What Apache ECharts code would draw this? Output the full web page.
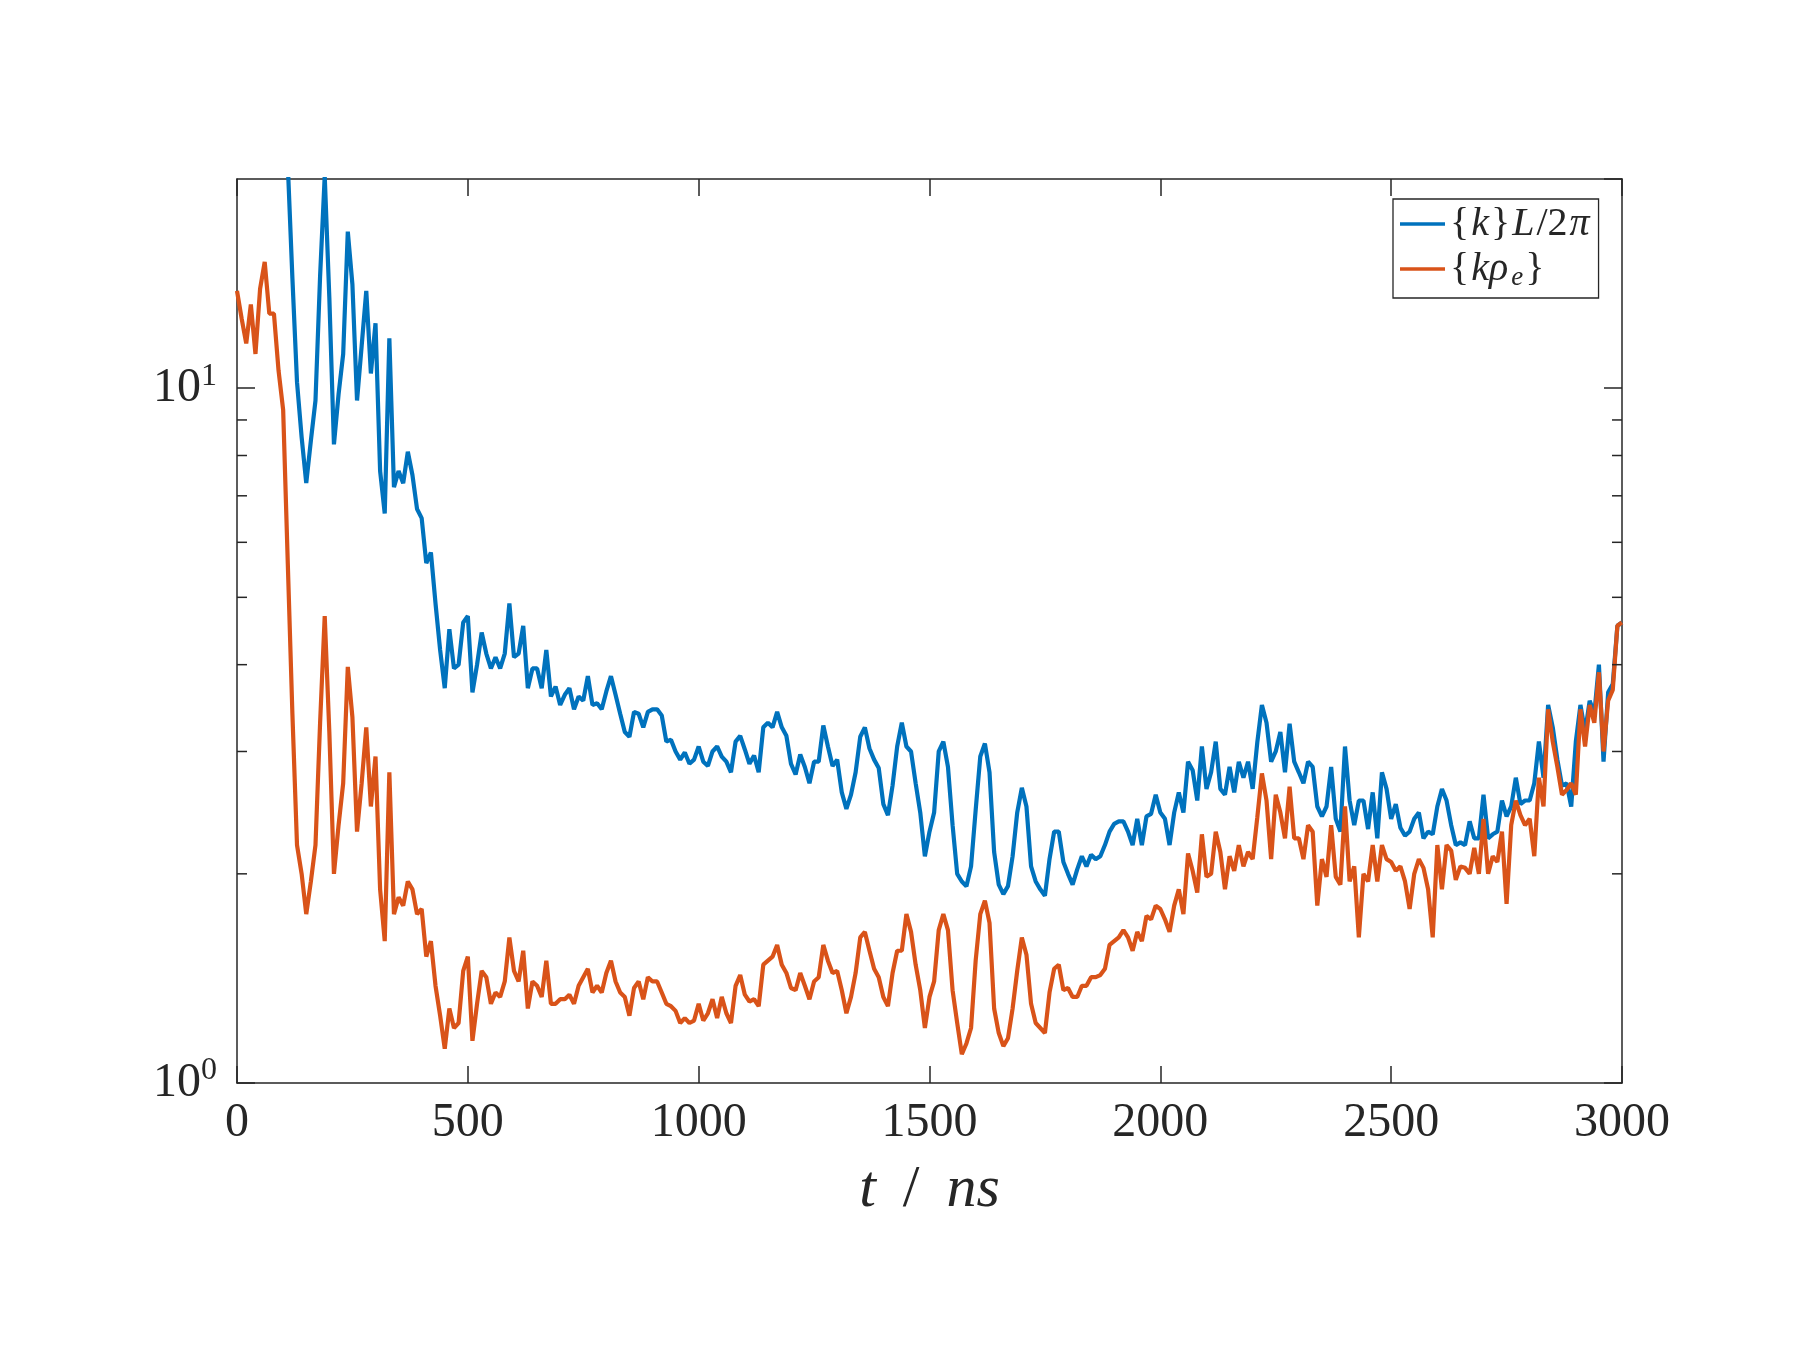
<!DOCTYPE html>
<html><head><meta charset="utf-8">
<script src="https://cdn.jsdelivr.net/npm/echarts@6/dist/echarts.min.js"></script>
<style>html,body{margin:0;padding:0;background:#fff}#c{width:1800px;height:1350px}</style>
</head><body><div id="c"></div>
<script>
// time stamps (ns)
const tNs = [
0,10,20,30,40,50,60,70,80,90,100,110,120,130,140,150,160,170,180,190,
200,210,220,230,240,250,260,270,280,290,300,310,320,330,340,350,360,370,380,390,
400,410,420,430,440,450,460,470,480,490,500,510,520,530,540,550,560,570,580,590,
600,610,620,630,640,650,660,670,680,690,700,710,720,730,740,750,760,770,780,790,
800,810,820,830,840,850,860,870,880,890,900,910,920,930,940,950,960,970,980,990,
1000,1010,1020,1030,1040,1050,1060,1070,1080,1090,1100,1110,1120,1130,1140,1150,1160,1170,1180,1190,
1200,1210,1220,1230,1240,1250,1260,1270,1280,1290,1300,1310,1320,1330,1340,1350,1360,1370,1380,1390,
1400,1410,1420,1430,1440,1450,1460,1470,1480,1490,1500,1510,1520,1530,1540,1550,1560,1570,1580,1590,
1600,1610,1620,1630,1640,1650,1660,1670,1680,1690,1700,1710,1720,1730,1740,1750,1760,1770,1780,1790,
1800,1810,1820,1830,1840,1850,1860,1870,1880,1890,1900,1910,1920,1930,1940,1950,1960,1970,1980,1990,
2000,2010,2020,2030,2040,2050,2060,2070,2080,2090,2100,2110,2120,2130,2140,2150,2160,2170,2180,2190,
2200,2210,2220,2230,2240,2250,2260,2270,2280,2290,2300,2310,2320,2330,2340,2350,2360,2370,2380,2390,
2400,2410,2420,2430,2440,2450,2460,2470,2480,2490,2500,2510,2520,2530,2540,2550,2560,2570,2580,2590,
2600,2610,2620,2630,2640,2650,2660,2670,2680,2690,2700,2710,2720,2730,2740,2750,2760,2770,2780,2790,
2800,2810,2820,2830,2840,2850,2860,2870,2880,2890,2900,2910,2920,2930,2940,2950,2960,2970,2980,2990,
3000];

// {k} L / 2pi  (blue)
const kL2pi = [
45,44,43,42,41,39,37,35,33,31,
28,21,14.4,10.2,8.5,7.3,8.4,9.6,14.5,20.2,
13.5,8.3,9.8,11.2,16.8,14.1,9.6,11.5,13.8,10.5,
12.4,7.6,6.6,11.8,7.2,7.6,7.3,8.1,7.5,6.7,
6.5,5.6,5.8,4.9,4.2,3.7,4.5,3.95,4.0,4.6,
4.7,3.65,4.0,4.45,4.15,3.95,4.1,3.95,4.15,4.9,
4.1,4.15,4.55,3.7,3.95,3.95,3.7,4.2,3.6,3.72,
3.5,3.62,3.7,3.45,3.6,3.55,3.85,3.5,3.52,3.45,
3.66,3.85,3.62,3.4,3.2,3.15,3.42,3.4,3.25,3.42,
3.45,3.45,3.38,3.1,3.12,3.0,2.92,2.99,2.88,2.92,
3.05,2.9,2.86,3.0,3.05,2.95,2.9,2.8,3.1,3.16,
3.02,2.88,2.96,2.8,3.25,3.3,3.25,3.42,3.25,3.16,
2.88,2.78,2.97,2.85,2.7,2.9,2.9,3.27,3.05,2.86,
2.92,2.62,2.48,2.6,2.8,3.15,3.25,3.03,2.92,2.84,
2.52,2.43,2.68,3.05,3.3,3.05,3.0,2.7,2.45,2.12,
2.3,2.45,3.0,3.1,2.85,2.35,2.0,1.95,1.92,2.05,
2.47,2.95,3.08,2.8,2.15,1.93,1.87,1.92,2.12,2.45,
2.66,2.5,2.05,1.95,1.9,1.86,2.1,2.3,2.3,2.08,
2.0,1.93,2.03,2.12,2.05,2.13,2.1,2.12,2.2,2.3,
2.36,2.38,2.38,2.3,2.2,2.4,2.2,2.42,2.44,2.6,
2.45,2.4,2.2,2.45,2.62,2.45,2.9,2.82,2.55,3.05,
2.65,2.8,3.1,2.65,2.6,2.85,2.62,2.9,2.75,2.9,
2.65,3.09,3.5,3.3,2.9,3.0,3.2,2.8,3.29,2.9,
2.8,2.7,2.9,2.85,2.5,2.42,2.5,2.85,2.4,2.3,
3.05,2.55,2.35,2.55,2.55,2.32,2.62,2.25,2.8,2.65,
2.4,2.52,2.33,2.27,2.3,2.4,2.45,2.25,2.3,2.28,
2.5,2.65,2.55,2.35,2.2,2.22,2.2,2.38,2.25,2.25,
2.6,2.25,2.28,2.3,2.55,2.42,2.5,2.75,2.52,2.55,
2.55,2.7,3.1,2.75,3.5,3.25,2.92,2.68,2.7,2.5,
3.1,3.5,3.2,3.55,3.4,4.0,2.9,3.65,3.75,4.55,
4.6];

// {k rho_e}  (orange)
const kRhoE = [
13.8,12.6,11.6,13.2,11.2,13.9,15.2,12.8,12.8,10.6,
9.3,5.6,3.4,2.2,2.0,1.75,1.95,2.2,3.3,4.7,
3.2,2.0,2.35,2.7,3.97,3.36,2.3,2.7,3.25,2.5,
2.95,1.9,1.6,2.8,1.75,1.85,1.8,1.95,1.9,1.75,
1.78,1.52,1.6,1.38,1.25,1.12,1.28,1.2,1.22,1.45,
1.52,1.15,1.3,1.45,1.42,1.3,1.35,1.33,1.4,1.62,
1.45,1.4,1.55,1.28,1.4,1.38,1.33,1.5,1.3,1.3,
1.32,1.32,1.34,1.3,1.38,1.42,1.46,1.35,1.38,1.35,
1.44,1.5,1.4,1.35,1.33,1.25,1.37,1.4,1.32,1.42,
1.4,1.4,1.35,1.3,1.29,1.27,1.22,1.24,1.22,1.23,
1.3,1.23,1.26,1.32,1.24,1.33,1.26,1.22,1.38,1.43,
1.34,1.31,1.32,1.29,1.48,1.5,1.52,1.58,1.48,1.44,
1.37,1.36,1.44,1.38,1.32,1.4,1.42,1.58,1.5,1.44,
1.45,1.36,1.26,1.33,1.44,1.62,1.65,1.55,1.46,1.42,
1.33,1.29,1.44,1.55,1.55,1.75,1.65,1.48,1.36,1.2,
1.33,1.4,1.66,1.75,1.66,1.36,1.22,1.1,1.14,1.2,
1.5,1.75,1.83,1.7,1.28,1.18,1.13,1.16,1.28,1.45,
1.62,1.53,1.3,1.22,1.2,1.18,1.35,1.46,1.48,1.36,
1.37,1.33,1.33,1.38,1.38,1.42,1.42,1.43,1.46,1.58,
1.6,1.62,1.66,1.62,1.55,1.65,1.6,1.74,1.72,1.8,
1.78,1.72,1.65,1.8,1.9,1.75,2.14,2.02,1.88,2.28,
1.98,2.0,2.3,2.15,1.9,2.12,2.02,2.2,2.05,2.15,
2.1,2.41,2.79,2.55,2.1,2.6,2.45,2.25,2.67,2.25,
2.25,2.1,2.35,2.3,1.8,2.1,1.98,2.35,1.98,1.93,
2.5,1.95,2.05,1.62,2.0,1.95,2.2,1.95,2.2,2.1,
2.08,2.02,2.05,1.95,1.78,2.0,2.1,2.04,1.9,1.62,
2.2,1.9,2.2,2.16,1.96,2.05,2.04,2.0,2.18,2.0,
2.4,2.0,2.12,2.08,2.3,1.81,2.35,2.55,2.43,2.35,
2.4,2.12,2.75,2.5,3.45,3.1,2.85,2.6,2.64,2.7,
2.6,3.45,3.05,3.5,3.3,3.9,3.0,3.55,3.68,4.55,
4.6];

const seriesNames = ['{k}L/2π', '{kρe}'];
const legendRich = {'{k}L/2π': '{{i|k}}{i|L}/2{i|π}', '{kρe}': '{{i|kρ}{sub|e}}'};
const xMin = 0, xMax = 3000, xStep = 500;
const yMin = 1, yMax = 20;
const yMinorTicks = [2, 3, 4, 5, 6, 7, 8, 9];
const xTitle = '{i|t}{sl|/}{i|ns}';

const FONT = 'Liberation Serif';
const AX = '#262626';
const BLUE = '#0072BD', ORANGE = '#D95319';

const chart = echarts.init(document.getElementById('c'), null, {renderer: 'canvas'});
const axLine = {show: true, onZero: false, lineStyle: {color: AX, width: 1.5}};
const xBase = {type: 'value', min: xMin, max: xMax, interval: xStep, splitLine: {show: false},
  axisLine: axLine, axisTick: {show: true, inside: true, length: 17, lineStyle: {color: AX, width: 1.5}}};
const yBase = {type: 'log', logBase: 10, min: yMin, max: yMax, splitLine: {show: false},
  axisLine: axLine, axisTick: {show: true, inside: true, length: 18, lineStyle: {color: AX, width: 1.5}},
  minorTick: {show: false}};

chart.setOption({
  animation: false,
  backgroundColor: '#fff',
  grid: {left: 237, top: 179, width: 1385, height: 904, containLabel: false},
  xAxis: [
    Object.assign({}, xBase, {position: 'bottom',
      axisLabel: {fontFamily: FONT, fontSize: 48, color: AX, margin: 16,
        formatter: function (v) { return String(v); }},
      name: xTitle, nameLocation: 'middle', nameGap: 77,
      nameTextStyle: {fontFamily: FONT, fontSize: 60, color: AX,
        rich: {
          i: {fontFamily: FONT, fontStyle: 'italic', fontSize: 60, color: AX},
          sl: {fontFamily: FONT, fontSize: 60, color: AX, padding: [0, 27, 0, 27]}
        }}}),
    Object.assign({}, xBase, {position: 'top', axisLabel: {show: false}})
  ],
  yAxis: [
    Object.assign({}, yBase, {position: 'left',
      axisLabel: {fontFamily: FONT, fontSize: 48, color: AX, margin: 20,
        showMaxLabel: false,
        formatter: function (v) {
          if (Math.abs(v - 1) < 1e-6) return '10{sup|0}';
          if (Math.abs(v - 10) < 1e-6) return '10{sup|1}';
          return '';
        },
        rich: {sup: {fontFamily: FONT, fontSize: 32, color: AX, padding: [0, 0, 24, 0]}}}}),
    Object.assign({}, yBase, {position: 'right', axisLabel: {show: false}})
  ],
  legend: {
    orient: 'vertical', left: 1393, top: 199, data: seriesNames,
    icon: 'rect', itemWidth: 45, itemHeight: 3.5, itemGap: 5, itemTextGap: 6,
    padding: [5, 7, 7, 7], borderColor: AX, borderWidth: 1.3, backgroundColor: '#fff',
    selectedMode: false,
    formatter: function (n) { return legendRich[n]; },
    textStyle: {fontFamily: FONT, fontSize: 40, color: AX, lineHeight: 40,
      rich: {
        i: {fontFamily: FONT, fontStyle: 'italic', fontSize: 40, color: AX, lineHeight: 40, padding: [0, 2, 0, 2]},
        sub: {fontFamily: FONT, fontStyle: 'italic', fontSize: 27, color: AX, padding: [17, 2, 0, 1]}
      }}
  },
  series: [
    {type: 'line', name: seriesNames[0], xAxisIndex: 0, yAxisIndex: 0,
      data: tNs.map(function (t, i) { return [t, kL2pi[i]]; }),
      symbol: 'none', showSymbol: false, clip: true,
      lineStyle: {color: BLUE, width: 4.2}, itemStyle: {color: BLUE}, z: 2},
    {type: 'line', name: seriesNames[1], xAxisIndex: 0, yAxisIndex: 0,
      data: tNs.map(function (t, i) { return [t, kRhoE[i]]; }),
      symbol: 'none', showSymbol: false, clip: true,
      lineStyle: {color: ORANGE, width: 4.2}, itemStyle: {color: ORANGE}, z: 3},
    {type: 'custom', silent: true, xAxisIndex: 0, yAxisIndex: 0, clip: false, z: 4,
      data: yMinorTicks.map(function (v) { return [xMin, v]; }),
      renderItem: function (params, api) {
        const v = api.value(1);
        const pL = api.coord([xMin, v]);
        const pR = api.coord([xMax, v]);
        return {type: 'group', children: [
          {type: 'line', shape: {x1: pL[0], y1: pL[1], x2: pL[0] + 10, y2: pL[1]}, style: {stroke: AX, lineWidth: 1.5}},
          {type: 'line', shape: {x1: pR[0] - 10, y1: pR[1], x2: pR[0], y2: pR[1]}, style: {stroke: AX, lineWidth: 1.5}}
        ]};
      }}
  ]
});
</script>
</body></html>
